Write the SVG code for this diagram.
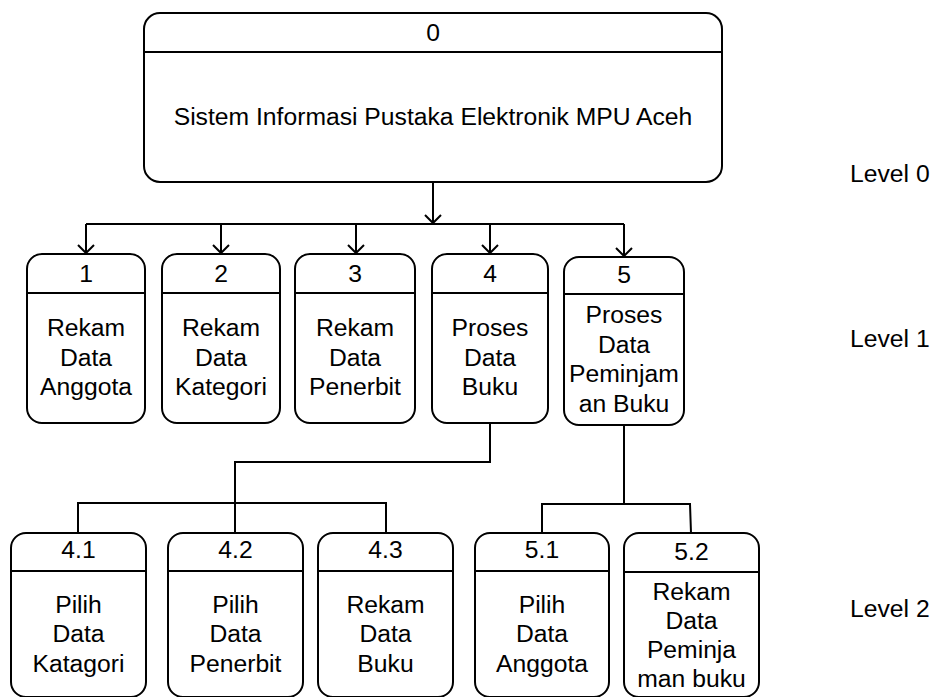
<svg xmlns="http://www.w3.org/2000/svg" width="934" height="697" viewBox="0 0 934 697">
<style>
.box{fill:#fff;stroke:#000;stroke-width:2}
.div{stroke:#000;stroke-width:2}
.t{font-family:"Liberation Sans",Arial,sans-serif;font-size:24.7px;fill:#000;text-anchor:middle}
.lv{font-family:"Liberation Sans",Arial,sans-serif;font-size:24.7px;fill:#000}
.c{fill:none;stroke:#000;stroke-width:2}
</style>
<defs>
<marker id="arr" markerUnits="userSpaceOnUse" viewBox="-10 -10 12 20" refX="0" refY="0" markerWidth="12" markerHeight="20" orient="auto" overflow="visible">
<path d="M-8,-8 L0,0 L-8,8" fill="none" stroke="#000" stroke-width="2"/>
</marker>
</defs>
<rect width="934" height="697" fill="#fff"/>
<g id="connectors">
<path class="c" d="M433,182 V223" marker-end="url(#arr)"/>
<path class="c" d="M86,224 H624"/>
<path class="c" d="M86,224 V253" marker-end="url(#arr)"/>
<path class="c" d="M221,224 V253" marker-end="url(#arr)"/>
<path class="c" d="M356,224 V253" marker-end="url(#arr)"/>
<path class="c" d="M490,224 V253" marker-end="url(#arr)"/>
<path class="c" d="M624,224 V256" marker-end="url(#arr)"/>
<path class="c" d="M490,423 V462 H235 V533"/>
<path class="c" d="M78,533 V503 H386 V533"/>
<path class="c" d="M624,425 V504"/>
<path class="c" d="M542,533 V504 H690 L691,533"/>
</g>
<g id="node0">
<rect class="box" x="144" y="13" width="578" height="169" rx="16"/>
<line class="div" x1="144" y1="52" x2="722" y2="52"/>
<text class="t" x="433" y="41">0</text>
<text class="t" x="433" y="125">Sistem Informasi Pustaka Elektronik MPU Aceh</text>
</g>
<g id="node1">
<rect class="box" x="27" y="254" width="118" height="169" rx="15"/>
<line class="div" x1="27" y1="293" x2="145" y2="293"/>
<text class="t" x="86" y="282">1</text>
<text class="t" x="86" y="336">Rekam</text>
<text class="t" x="86" y="366">Data</text>
<text class="t" x="86" y="395">Anggota</text>
</g>
<g id="node2">
<rect class="box" x="162" y="254" width="118" height="169" rx="15"/>
<line class="div" x1="162" y1="293" x2="280" y2="293"/>
<text class="t" x="221" y="282">2</text>
<text class="t" x="221" y="336">Rekam</text>
<text class="t" x="221" y="366">Data</text>
<text class="t" x="221" y="395">Kategori</text>
</g>
<g id="node3">
<rect class="box" x="295" y="254" width="120" height="169" rx="15"/>
<line class="div" x1="295" y1="293" x2="415" y2="293"/>
<text class="t" x="355" y="282">3</text>
<text class="t" x="355" y="336">Rekam</text>
<text class="t" x="355" y="366">Data</text>
<text class="t" x="355" y="395">Penerbit</text>
</g>
<g id="node4">
<rect class="box" x="432" y="254" width="116" height="169" rx="15"/>
<line class="div" x1="432" y1="293" x2="548" y2="293"/>
<text class="t" x="490" y="282">4</text>
<text class="t" x="490" y="336">Proses</text>
<text class="t" x="490" y="366">Data</text>
<text class="t" x="490" y="395">Buku</text>
</g>
<g id="node5">
<rect class="box" x="564" y="257" width="120" height="168" rx="15"/>
<line class="div" x1="564" y1="294" x2="684" y2="294"/>
<text class="t" x="624" y="283">5</text>
<text class="t" x="624" y="323">Proses</text>
<text class="t" x="624" y="353">Data</text>
<text class="t" x="624" y="382">Peminjam</text>
<text class="t" x="624" y="412">an Buku</text>
</g>
<g id="node4_1">
<rect class="box" x="11" y="533" width="135" height="164" rx="15"/>
<line class="div" x1="11" y1="571" x2="146" y2="571"/>
<text class="t" x="78.5" y="558">4.1</text>
<text class="t" x="78.5" y="613">Pilih</text>
<text class="t" x="78.5" y="642">Data</text>
<text class="t" x="78.5" y="672">Katagori</text>
</g>
<g id="node4_2">
<rect class="box" x="168" y="533" width="135" height="164" rx="15"/>
<line class="div" x1="168" y1="571" x2="303" y2="571"/>
<text class="t" x="235.5" y="558">4.2</text>
<text class="t" x="235.5" y="613">Pilih</text>
<text class="t" x="235.5" y="642">Data</text>
<text class="t" x="235.5" y="672">Penerbit</text>
</g>
<g id="node4_3">
<rect class="box" x="318" y="533" width="135" height="164" rx="15"/>
<line class="div" x1="318" y1="571" x2="453" y2="571"/>
<text class="t" x="385.5" y="558">4.3</text>
<text class="t" x="385.5" y="613">Rekam</text>
<text class="t" x="385.5" y="642">Data</text>
<text class="t" x="385.5" y="672">Buku</text>
</g>
<g id="node5_1">
<rect class="box" x="475" y="533" width="134" height="164" rx="15"/>
<line class="div" x1="475" y1="571" x2="609" y2="571"/>
<text class="t" x="542" y="558">5.1</text>
<text class="t" x="542" y="613">Pilih</text>
<text class="t" x="542" y="642">Data</text>
<text class="t" x="542" y="672">Anggota</text>
</g>
<g id="node5_2">
<rect class="box" x="624" y="533" width="135" height="164" rx="15"/>
<line class="div" x1="624" y1="572" x2="759" y2="572"/>
<text class="t" x="691.5" y="560">5.2</text>
<text class="t" x="691.5" y="600">Rekam</text>
<text class="t" x="691.5" y="629">Data</text>
<text class="t" x="691.5" y="658">Peminja</text>
<text class="t" x="691.5" y="687">man buku</text>
</g>
<g id="levels">
<text class="lv" x="850" y="182">Level 0</text>
<text class="lv" x="850" y="347">Level 1</text>
<text class="lv" x="850" y="617">Level 2</text>
</g>
</svg>
